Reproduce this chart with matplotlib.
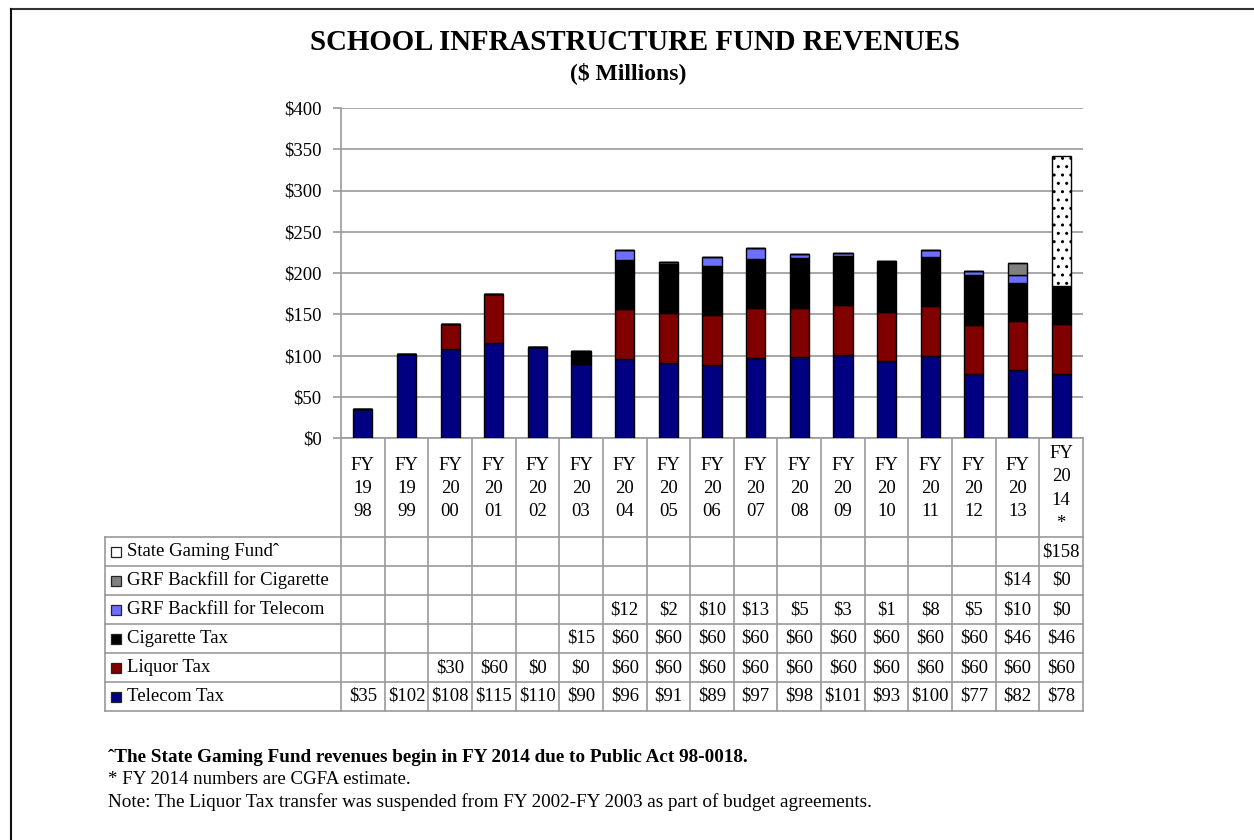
import matplotlib
matplotlib.use('Agg')
import matplotlib.pyplot as plt
from matplotlib.lines import Line2D
from matplotlib.patches import Rectangle

plt.rcParams['font.family'] = ['Liberation Serif', 'DejaVu Serif']
plt.rcParams['hatch.linewidth'] = 1.0

# data ($ millions), None = blank cell in the table
years = ['1998', '1999', '2000', '2001', '2002', '2003', '2004', '2005', '2006',
         '2007', '2008', '2009', '2010', '2011', '2012', '2013', '2014']
telecom = [35, 102, 108, 115, 110, 90, 96, 91, 89, 97, 98, 101, 93, 100, 77, 82, 78]
liquor = [None, None, 30, 60, 0, 0, 60, 60, 60, 60, 60, 60, 60, 60, 60, 60, 60]
cigarette = [None, None, None, None, None, 15, 60, 60, 60, 60, 60, 60, 60, 60, 60, 46, 46]
grf_telecom = [None, None, None, None, None, None, 12, 2, 10, 13, 5, 3, 1, 8, 5, 10, 0]
grf_cig = [None] * 15 + [14, 0]
gaming = [None] * 16 + [158]

series = [
    ('Telecom Tax', telecom, '#000080', None),
    ('Liquor Tax', liquor, '#800000', None),
    ('Cigarette Tax', cigarette, '#000000', None),
    ('GRF Backfill for Telecom', grf_telecom, '#6F6FFF', None),
    ('GRF Backfill for Cigarette', grf_cig, '#808080', None),
    ('State Gaming Fund\u02c6', gaming, '#FFFFFF', '..'),
]

W, H = 1254, 840
fig = plt.figure(figsize=(W / 100, H / 100), dpi=100)

def fx(px):
    return px / W

def fy(py):
    return 1 - py / H

x_left, x_right, y_top, y_bot = 341, 1083, 108, 438
ax = fig.add_axes([fx(x_left), fy(y_bot), fx(x_right - x_left), (y_bot - y_top) / H])

n = len(years)
xs = list(range(n))
bottom = [0] * n
for name, vals, col, hatch in series:
    v = [0 if a is None else a for a in vals]
    ax.bar(xs, v, 0.44, bottom=bottom, color=col, edgecolor='black',
           linewidth=1.0, hatch=hatch, zorder=3)
    bottom = [b + a for b, a in zip(bottom, v)]

ax.set_xlim(-0.5, n - 0.5)
ax.set_ylim(0, 400)
ax.set_yticks(range(0, 401, 50))
ax.set_yticklabels(['$%d' % t for t in range(0, 401, 50)], fontsize=13.5)
ax.set_xticks([])
ax.yaxis.grid(True, color='#9A9A9A', linewidth=1.2, zorder=0)
for s in ['top', 'right']:
    ax.spines[s].set_visible(False)
ax.spines['left'].set_color('#9A9A9A')
ax.spines['bottom'].set_color('#9A9A9A')
ax.spines['left'].set_linewidth(1.2)
ax.spines['bottom'].set_linewidth(1.2)
ax.tick_params(axis='y', length=6, color='#9A9A9A', width=1.2, pad=8)
ax.set_axisbelow(True)

# data table below the axes
gcol = '#9A9A9A'
colw = (x_right - x_left) / n
head_bot = 537
row_h = 29
rows_bot = head_bot + row_h * 6
lab_left = 105

def hline(y, x0, x1):
    fig.add_artist(Line2D([fx(x0), fx(x1)], [fy(y), fy(y)], color=gcol, lw=1.2))

def vline(x, y0, y1):
    fig.add_artist(Line2D([fx(x), fx(x)], [fy(y0), fy(y1)], color=gcol, lw=1.2))

for i in range(n + 1):
    vline(x_left + i * colw, y_bot, rows_bot)
vline(lab_left, head_bot, rows_bot)
for r in range(7):
    hline(head_bot + r * row_h, lab_left, x_right)

for i, yr in enumerate(years):
    lbl = 'FY\n%s\n%s' % (yr[:2], yr[2:])
    if yr == '2014':
        lbl += '\n*'
    fig.text(fx(x_left + (i + 0.5) * colw), fy((y_bot + head_bot) / 2 + 1), lbl,
             ha='center', va='center', fontsize=13.5, linespacing=1.5)

for r, (name, vals, col, hatch) in enumerate(reversed(series)):
    yc = fy(head_bot + (r + 0.5) * row_h)
    sw = 10
    fig.add_artist(Rectangle((fx(lab_left + 6), yc - sw / 2 / H), sw / W, sw / H,
                             facecolor=col, edgecolor='#222222', lw=0.9))
    fig.text(fx(lab_left + 22), yc, name, ha='left', va='center', fontsize=13.5)
    for i, v in enumerate(vals):
        if v is not None:
            fig.text(fx(x_left + (i + 0.5) * colw), yc, '$%d' % v,
                     ha='center', va='center', fontsize=13.5)

fig.text(fx(635), fy(42), 'SCHOOL INFRASTRUCTURE FUND REVENUES', ha='center', va='center',
         fontsize=20.8, fontweight='bold')
fig.text(fx(628), fy(73), '($ Millions)', ha='center', va='center', fontsize=17,
         fontweight='bold')

fig.text(fx(108), fy(758), '\u02c6The State Gaming Fund revenues begin in FY 2014 due to Public Act 98-0018.',
         ha='left', va='center', fontsize=13.8, fontweight='bold')
fig.text(fx(108), fy(780), '* FY 2014 numbers are CGFA estimate.',
         ha='left', va='center', fontsize=13.6)
fig.text(fx(108), fy(802), 'Note: The Liquor Tax transfer was suspended from FY 2002-FY 2003 as part of budget agreements.',
         ha='left', va='center', fontsize=13.8)

# outer frame (top and left edges)
fig.add_artist(Line2D([fx(11), 1], [fy(9), fy(9)], color='#333333', lw=1.5))
fig.add_artist(Line2D([fx(11), fx(11)], [fy(9), 0], color='#111111', lw=1.5))

fig.savefig('out.png', dpi=100)
